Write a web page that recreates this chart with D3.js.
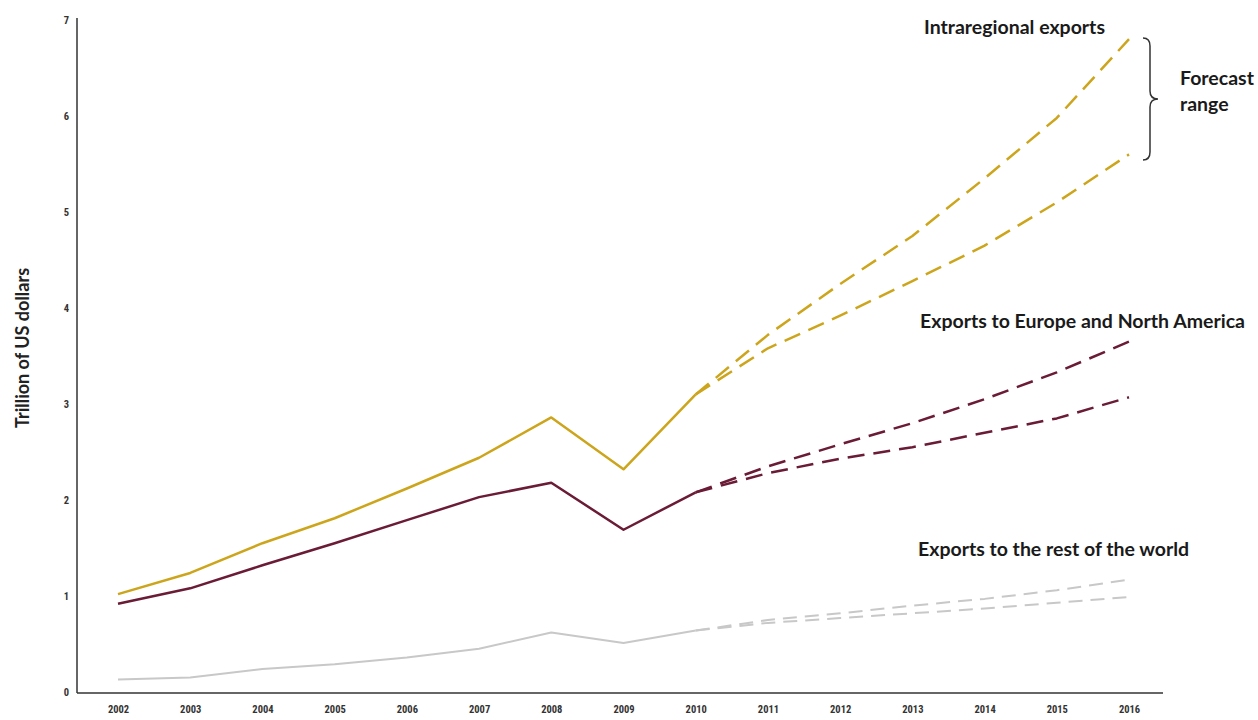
<!DOCTYPE html>
<html><head><meta charset="utf-8">
<script src="https://cdn.jsdelivr.net/npm/d3@7"></script>
<style>
html,body{margin:0;padding:0;background:#fff;}
text{font-family:Lato,"Open Sans",sans-serif;}
.tick text{font-family:"Liberation Sans Narrow","Roboto Condensed",sans-serif;}
</style></head>
<body><svg id="c" width="1258" height="720"></svg>
<script>
const years = [2002,2003,2004,2005,2006,2007,2008,2009,2010];
const forecastYears = [2010,2011,2012,2013,2014,2015,2016];
const yTicks = [0,1,2,3,4,5,6,7];

const intraHist = [1.02,1.24,1.55,1.81,2.12,2.44,2.86,2.32,3.1];
const intraHigh = [3.1,3.72,4.25,4.75,5.35,5.98,6.8];
const intraLow  = [3.1,3.58,3.92,4.28,4.65,5.1,5.6];

const euroHist = [0.92,1.08,1.32,1.55,1.79,2.03,2.18,1.69,2.08];
const euroHigh = [2.08,2.35,2.58,2.8,3.05,3.33,3.65];
const euroLow  = [2.08,2.28,2.43,2.55,2.7,2.85,3.07];

const restHist = [0.13,0.15,0.24,0.29,0.36,0.45,0.62,0.51,0.64];
const restHigh = [0.64,0.75,0.82,0.9,0.97,1.06,1.17];
const restLow  = [0.64,0.72,0.77,0.82,0.87,0.93,0.99];

const svg = d3.select("#c");
const x = d3.scaleLinear().domain([2002,2016]).range([118,1129]);
const y = d3.scaleLinear().domain([0,7]).range([692,20]);

svg.append("line").attr("x1",77).attr("x2",77).attr("y1",18).attr("y2",693).attr("stroke","#333").attr("stroke-width",1.5);
svg.append("line").attr("x1",77).attr("x2",1163).attr("y1",693).attr("y2",693).attr("stroke","#333").attr("stroke-width",1.5);

const xAxis = d3.axisBottom(x).tickValues(d3.range(2002,2017)).tickFormat(d3.format("d")).tickSize(0).tickPadding(0);
const gx = svg.append("g").attr("transform","translate(0,706)").call(xAxis);
gx.select(".domain").remove();
gx.selectAll("text").attr("font-size",10.5).attr("font-weight","bold").attr("fill","#333");

const yAxis = d3.axisLeft(y).tickValues(yTicks).tickFormat(d3.format("d")).tickSize(0).tickPadding(0);
const gy = svg.append("g").attr("transform","translate(69,0)").call(yAxis);
gy.select(".domain").remove();
gy.selectAll("text").attr("font-size",10.5).attr("font-weight","bold").attr("fill","#333");

svg.append("text").attr("transform","translate(29,348) rotate(-90)").attr("text-anchor","middle")
  .attr("font-size",18).attr("font-weight","bold").attr("fill","#222").text("Trillion of US dollars");

const line = d3.line().x(d=>x(d[0])).y(d=>y(d[1]));
function draw(xs, vs, color, w, dash){
  const p = svg.append("path").datum(xs.map((yr,i)=>[yr,vs[i]]))
    .attr("d",line).attr("fill","none").attr("stroke",color).attr("stroke-width",w)
    .attr("stroke-linejoin","round");
  if(dash) p.attr("stroke-dasharray",dash);
}
const gold="#cda51c", maroon="#6a1b36", gray="#c8c8c8";
draw(years, restHist, gray, 2);
draw(forecastYears, restHigh, gray, 2, "14,8");
draw(forecastYears, restLow, gray, 2, "14,8");
draw(years, euroHist, maroon, 2.5);
draw(forecastYears, euroHigh, maroon, 2.5, "17,9");
draw(forecastYears, euroLow, maroon, 2.5, "17,9");
draw(years, intraHist, gold, 2.5);
draw(forecastYears, intraHigh, gold, 2.5, "17,9");
draw(forecastYears, intraLow, gold, 2.5, "17,9");

function label(t,xx,yy,size){
  svg.append("text").attr("x",xx).attr("y",yy).attr("font-size",size||19.5).attr("font-weight","bold").attr("fill","#1a1a1a").text(t);
}
label("Intraregional exports",924,34);
label("Exports to Europe and North America",920,328);
label("Exports to the rest of the world",918,556);
label("Forecast",1180,85);
label("range",1180,111);

const bx=1150, bTop=38, bBot=160, bMid=(bTop+bBot)/2;
svg.append("path").attr("fill","none").attr("stroke","#333").attr("stroke-width",1.5)
 .attr("d",`M${bx-7},${bTop} Q${bx},${bTop} ${bx},${bTop+8} L${bx},${bMid-8} Q${bx},${bMid} ${bx+8},${bMid} Q${bx},${bMid} ${bx},${bMid+8} L${bx},${bBot-8} Q${bx},${bBot} ${bx-7},${bBot}`);
</script></body></html>
